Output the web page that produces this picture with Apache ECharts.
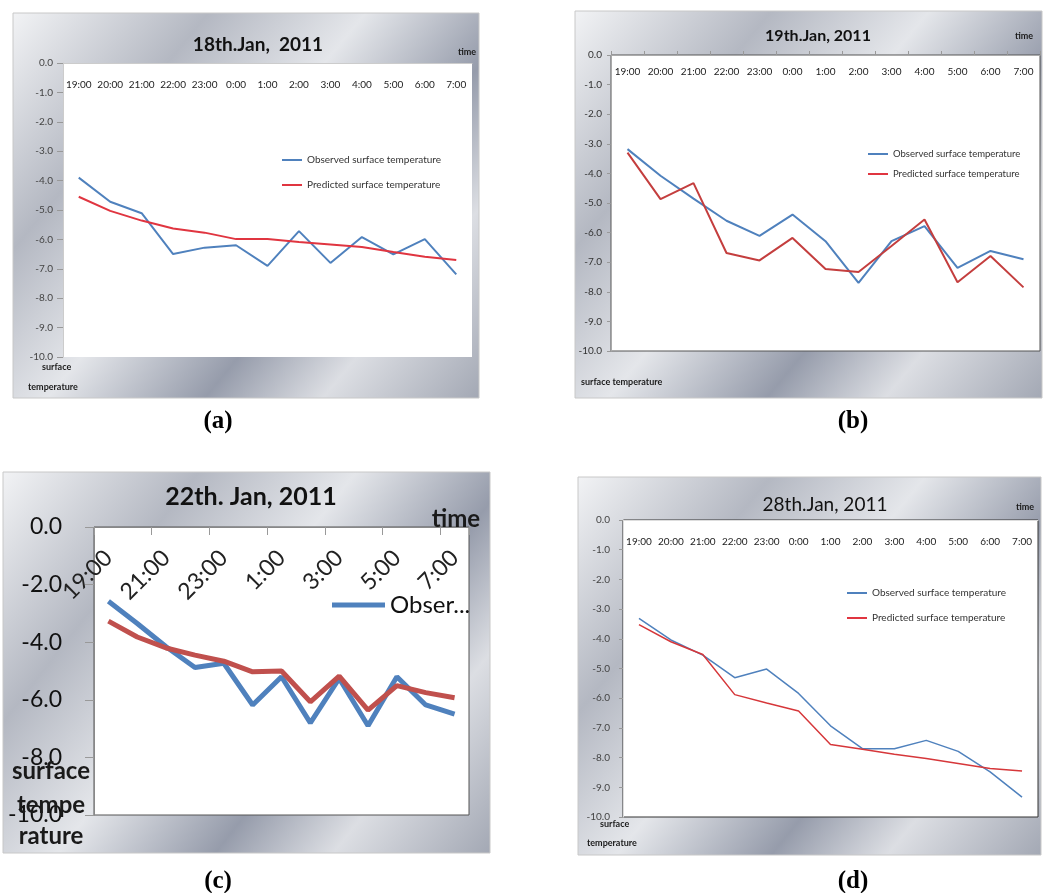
<!DOCTYPE html>
<html>
<head>
<meta charset="utf-8">
<script src="https://cdn.jsdelivr.net/npm/echarts@6/dist/echarts.min.js"></script>
<style>
  html, body { margin: 0; padding: 0; background: #fff; }
  #main { width: 1045px; height: 893px; }
</style>
</head>
<body>
<div id="main"></div>
<script>
// time of day along the x axis (same for all four panels)
var hours = ['19:00', '20:00', '21:00', '22:00', '23:00', '0:00', '1:00', '2:00', '3:00', '4:00', '5:00', '6:00', '7:00'];

// (a) 18th Jan
var observedJan18 = [-3.9, -4.72, -5.11, -6.5, -6.28, -6.2, -6.9, -5.72, -6.8, -5.92, -6.51, -5.99, -7.19];
var predictedJan18 = [-4.55, -5.03, -5.36, -5.63, -5.77, -5.99, -5.99, -6.09, -6.17, -6.26, -6.43, -6.59, -6.7];
// (b) 19th Jan
var observedJan19 = [-3.18, -4.08, -4.85, -5.6, -6.11, -5.39, -6.29, -7.7, -6.29, -5.78, -7.19, -6.62, -6.9];
var predictedJan19 = [-3.3, -4.87, -4.33, -6.69, -6.94, -6.18, -7.23, -7.33, -6.45, -5.56, -7.68, -6.79, -7.85];
// (c) 22th Jan
var observedJan22 = [-2.58, -3.35, -4.16, -4.88, -4.73, -6.18, -5.2, -6.8, -5.26, -6.9, -5.2, -6.18, -6.5];
var predictedJan22 = [-3.27, -3.82, -4.2, -4.45, -4.66, -5.03, -5.0, -6.07, -5.18, -6.36, -5.51, -5.75, -5.93];
// (d) 28th Jan
var observedJan28 = [-3.31, -4.04, -4.55, -5.31, -5.02, -5.84, -6.93, -7.7, -7.7, -7.42, -7.79, -8.48, -9.33];
var predictedJan28 = [-3.52, -4.1, -4.53, -5.88, -6.16, -6.43, -7.56, -7.72, -7.89, -8.03, -8.2, -8.37, -8.45];

var obsName = 'Observed surface temperature';
var predName = 'Predicted surface temperature';
var FONT = 'Lato, "Liberation Sans", sans-serif';

var myChart = echarts.init(document.getElementById('main'));

// grey "metal" chart-area fill like the old excel style
function metal() {
  return {
    type: 'linear', x: 0, y: 0, x2: 1, y2: 1,
    colorStops: [
      {offset: 0, color: '#f2f3f5'},
      {offset: 0.25, color: '#b4b8c2'},
      {offset: 0.45, color: '#e4e6ea'},
      {offset: 0.65, color: '#969cab'},
      {offset: 0.8, color: '#dcdee3'},
      {offset: 1, color: '#a3a8b4'}
    ]
  };
}
function frame(x, y, w, h) {
  return {type: 'rect', z: -10, silent: true, shape: {x: x, y: y, width: w, height: h},
    style: {fill: metal(), stroke: '#c8c8c8', lineWidth: 1}};
}
function label(x, y, text, size, bold, align) {
  return {type: 'text', x: x, y: y, silent: true, z: 50,
    style: {text: text, fill: '#1a1a1a', align: align || 'center', verticalAlign: 'middle',
      font: (bold ? 'bold ' : '') + size + 'px ' + FONT}};
}

function xAxisFor(i, opt) {
  return {
    type: 'category', gridIndex: i, position: 'top', data: hours, boundaryGap: true,
    axisLine: {show: true, lineStyle: {color: opt.lineColor || '#aaa', width: 1}},
    axisTick: {show: opt.tick !== false, inside: !!opt.tickInside, length: opt.tickLen || 4, lineStyle: {color: '#999'}},
    axisLabel: {inside: true, interval: opt.interval || 0, rotate: opt.rotate || 0, margin: opt.margin,
      fontSize: opt.fontSize, color: '#222', fontFamily: FONT},
    splitLine: {show: false}
  };
}
function yAxisFor(i, opt) {
  return {
    type: 'value', gridIndex: i, min: -10, max: 0, interval: opt.interval || 1,
    axisLine: {show: true, lineStyle: {color: opt.lineColor || '#aaa'}},
    axisTick: {show: true, length: opt.tickLen || 4, lineStyle: {color: '#999'}},
    axisLabel: {margin: opt.margin, fontSize: opt.fontSize, color: opt.labelColor || '#333', fontFamily: FONT,
      formatter: function (v) { return v.toFixed(1); }},
    splitLine: {show: false}
  };
}
function lineSeries(name, i, values, color, width) {
  return {
    name: name, type: 'line', xAxisIndex: i, yAxisIndex: i, data: values,
    showSymbol: false, symbol: 'none', smooth: false,
    lineStyle: {color: color, width: width}, itemStyle: {color: color}
  };
}

var option = {
  animation: false,
  title: [
    {text: '18th.Jan,  2011', left: 253, top: 30, textAlign: 'center', textStyle: {fontSize: 19, fontWeight: 'bold', color: '#111', fontFamily: FONT}},
    {text: '19th.Jan, 2011', left: 813, top: 23, textAlign: 'center', textStyle: {fontSize: 16, fontWeight: 'bold', color: '#111', fontFamily: FONT}},
    {text: '22th. Jan, 2011', left: 246, top: 479, textAlign: 'center', textStyle: {fontSize: 25, fontWeight: 'bold', color: '#111', fontFamily: FONT}},
    {text: '28th.Jan, 2011', left: 820, top: 490, textAlign: 'center', textStyle: {fontSize: 19, fontWeight: 'normal', color: '#111', fontFamily: FONT}},
    {text: '(a)', left: 213, top: 404, textAlign: 'center', textStyle: {fontSize: 25, fontWeight: 'bold', color: '#000', fontFamily: '"Liberation Serif", serif'}},
    {text: '(b)', left: 848, top: 404, textAlign: 'center', textStyle: {fontSize: 25, fontWeight: 'bold', color: '#000', fontFamily: '"Liberation Serif", serif'}},
    {text: '(c)', left: 213, top: 864, textAlign: 'center', textStyle: {fontSize: 25, fontWeight: 'bold', color: '#000', fontFamily: '"Liberation Serif", serif'}},
    {text: '(d)', left: 848, top: 864, textAlign: 'center', textStyle: {fontSize: 25, fontWeight: 'bold', color: '#000', fontFamily: '"Liberation Serif", serif'}}
  ],
  legend: [
    {data: [obsName, predName], orient: 'vertical', left: 277, top: 150, icon: 'rect', itemWidth: 20, itemHeight: 2, itemGap: 15,
      textStyle: {fontSize: 10, color: '#333', fontFamily: FONT}},
    {data: [obsName, predName], orient: 'vertical', left: 863, top: 144, icon: 'rect', itemWidth: 20, itemHeight: 2, itemGap: 10,
      textStyle: {fontSize: 9.5, color: '#333', fontFamily: FONT}},
    {data: [obsName], orient: 'vertical', left: 327, top: 588, icon: 'rect', itemWidth: 53, itemHeight: 5,
      textStyle: {fontSize: 24, color: '#111', fontFamily: FONT, width: 84, overflow: 'truncate', ellipsis: '...'}},
    {data: [obsName, predName], orient: 'vertical', left: 842, top: 583, icon: 'rect', itemWidth: 20, itemHeight: 2, itemGap: 15,
      textStyle: {fontSize: 10, color: '#333', fontFamily: FONT}}
  ],
  grid: [
    {left: 63, top: 63, width: 409, height: 294, show: true, backgroundColor: '#fff', borderWidth: 0},
    {left: 611, top: 55, width: 429, height: 296, show: true, backgroundColor: '#fff', borderColor: '#555', borderWidth: 1},
    {left: 94, top: 527, width: 375, height: 288, show: true, backgroundColor: '#fff', borderColor: '#555', borderWidth: 1},
    {left: 623, top: 520, width: 415, height: 297, show: true, backgroundColor: '#fff', borderColor: '#333', borderWidth: 1}
  ],
  xAxis: [
    xAxisFor(0, {margin: 17, fontSize: 10, tick: false, lineColor: '#ccc'}),
    xAxisFor(1, {margin: 12, fontSize: 10, tickLen: 4}),
    xAxisFor(2, {margin: 27, fontSize: 23, rotate: 45, interval: 1, tickInside: true, tickLen: 8, lineColor: '#888'}),
    xAxisFor(3, {margin: 17, fontSize: 10, tick: false, lineColor: '#ddd'})
  ],
  yAxis: [
    yAxisFor(0, {margin: 10, fontSize: 10, tickLen: 6, lineColor: '#ccc', labelColor: '#444'}),
    yAxisFor(1, {margin: 9, fontSize: 10, tickLen: 4}),
    yAxisFor(2, {margin: 32, fontSize: 23, interval: 2, tickLen: 9, lineColor: '#888', labelColor: '#111'}),
    yAxisFor(3, {margin: 13, fontSize: 10, tickLen: 4, lineColor: '#ddd', labelColor: '#444'})
  ],
  series: [
    lineSeries(obsName, 0, observedJan18, '#4f81bd', 2),
    lineSeries(predName, 0, predictedJan18, '#e03540', 2),
    lineSeries(obsName, 1, observedJan19, '#4f81bd', 2),
    lineSeries(predName, 1, predictedJan19, '#c43e3e', 2),
    lineSeries(obsName, 2, observedJan22, '#4f81bd', 5),
    lineSeries(predName, 2, predictedJan22, '#c0504d', 5),
    lineSeries(obsName, 3, observedJan28, '#4f81bd', 1.5),
    lineSeries(predName, 3, predictedJan28, '#d6373a', 1.5)
  ],
  graphic: [
    frame(13, 13, 466, 385),
    frame(575, 11, 467, 387),
    frame(3, 472, 487, 381),
    frame(578, 477, 463, 378),
    label(467, 52, 'time', 9, true),
    label(1024, 36, 'time', 9, true),
    label(456, 519, 'time', 24, true),
    label(1025, 507, 'time', 9, true),
    label(42, 367, 'surface', 9, true, 'left'),
    label(28, 387, 'temperature', 9, true, 'left'),
    label(581, 382, 'surface temperature', 9, true, 'left'),
    label(51, 771, 'surface', 24, true),
    label(51, 805, 'tempe', 24, true),
    label(51, 836, 'rature', 24, true),
    label(600, 824, 'surface', 9, true, 'left'),
    label(587, 843, 'temperature', 9, true, 'left')
  ]
};

myChart.setOption(option);
</script>
</body>
</html>
